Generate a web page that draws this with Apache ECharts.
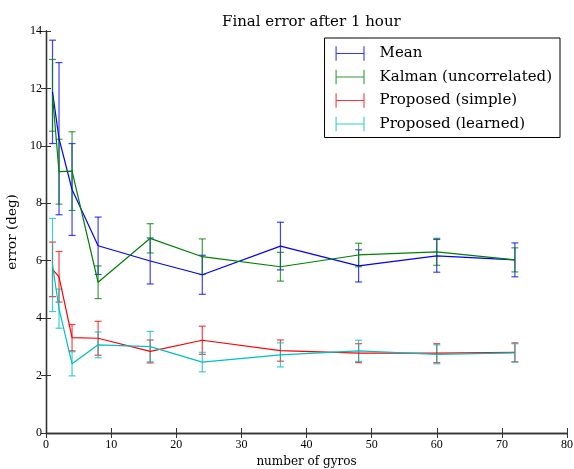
<!DOCTYPE html>
<html><head><meta charset="utf-8">
<script src="https://cdn.jsdelivr.net/npm/echarts@6/dist/echarts.min.js"></script>
<style>html,body{margin:0;padding:0;background:#fff}#c{width:574px;height:469px}</style>
</head><body><div id="c"></div>
<script>
var xs = [1, 2, 4, 8, 16, 24, 36, 48, 60, 72];
var meanVals = [11.88, 10.25, 8.48, 6.52, 5.99, 5.51, 6.51, 5.82, 6.17, 6.03];
var meanErr = [1.8, 2.65, 1.6, 1.0, 0.8, 0.68, 0.83, 0.56, 0.57, 0.59];
var kalmanVals = [11.76, 9.10, 9.12, 5.25, 6.78, 6.14, 5.79, 6.20, 6.31, 6.03];
var kalmanErr = [1.25, 1.13, 1.37, 0.57, 0.51, 0.62, 0.5, 0.41, 0.47, 0.42];
var simpleVals = [5.70, 5.44, 3.32, 3.30, 2.84, 3.23, 2.87, 2.78, 2.78, 2.81];
var simpleErr = [0.95, 0.88, 0.46, 0.59, 0.40, 0.49, 0.37, 0.33, 0.33, 0.33];
var learnedVals = [5.85, 4.33, 2.41, 3.07, 3.01, 2.47, 2.72, 2.86, 2.74, 2.79];
var learnedErr = [1.62, 0.68, 0.42, 0.45, 0.53, 0.34, 0.42, 0.37, 0.33, 0.32];
var seriesNames = ['Mean', 'Kalman (uncorrelated)', 'Proposed (simple)', 'Proposed (learned)'];
var colors = ['#0000ff', '#008000', '#ff0000', '#00bfbf'];
var xTicks = [0, 10, 20, 30, 40, 50, 60, 70, 80];
var yTicks = [0, 2, 4, 6, 8, 10, 12, 14];

var FONT = 'DejaVu Serif';
var TICKFONT = 'Liberation Serif';
var vals = [meanVals, kalmanVals, simpleVals, learnedVals];
var errs = [meanErr, kalmanErr, simpleErr, learnedErr];

function errSeries(i) {
  var data = xs.map(function (x, k) { return [x, vals[i][k] - errs[i][k], vals[i][k] + errs[i][k]]; });
  return {
    type: 'custom', name: seriesNames[i], data: data, z: 2, silent: true,
    encode: { x: 0, y: [1, 2] },
    renderItem: function (params, api) {
      var lo = api.coord([api.value(0), api.value(1)]);
      var hi = api.coord([api.value(0), api.value(2)]);
      var w = 3.5;
      var st = { stroke: colors[i], lineWidth: 1.2, opacity: 0.75 };
      return { type: 'group', children: [
        { type: 'line', shape: { x1: lo[0], y1: lo[1], x2: hi[0], y2: hi[1] }, style: st },
        { type: 'line', shape: { x1: lo[0] - w, y1: lo[1], x2: lo[0] + w, y2: lo[1] }, style: st },
        { type: 'line', shape: { x1: hi[0] - w, y1: hi[1], x2: hi[0] + w, y2: hi[1] }, style: st }
      ]};
    }
  };
}
function lineSeries(i) {
  return {
    type: 'line', name: seriesNames[i], data: xs.map(function (x, k) { return [x, vals[i][k]]; }),
    symbol: 'none', z: 3, lineStyle: { color: colors[i], width: 1.2 }, itemStyle: { color: colors[i] }
  };
}
var series = [];
for (var i = 0; i < 4; i++) { series.push(lineSeries(i)); series.push(errSeries(i)); }

var axisLine = { show: true, lineStyle: { color: '#333', width: 1.3 } };
var tick = { show: true, inside: true, length: 5, lineStyle: { color: '#333', width: 1 } };
var xLabel = { fontFamily: TICKFONT, fontSize: 12, color: '#000', margin: 6,
  formatter: function (v) { return xTicks.indexOf(v) >= 0 ? String(v) : ''; } };
var yLabel = { fontFamily: TICKFONT, fontSize: 12, color: '#000', margin: 4,
  formatter: function (v) { return yTicks.indexOf(v) >= 0 ? String(v) : ''; } };

var chart = echarts.init(document.getElementById('c'));
chart.setOption({
  animation: false,
  title: { text: 'Final error after 1 hour', left: 217, top: 10,
    textStyle: { fontFamily: FONT, fontSize: 15, fontWeight: 'normal', color: '#000' } },
  grid: { left: 46, right: 7, top: 31, bottom: 36, outerBoundsMode: 'none', containLabel: false },
  legend: {
    data: seriesNames.map(function (n, i) { return { name: n, itemStyle: { color: colors[i], opacity: 0.8 } }; }),
    orient: 'vertical', right: 14, top: 38, itemWidth: 29, itemHeight: 17, itemGap: 8.5,
    padding: [8, 8, 6, 11], borderColor: '#000', borderWidth: 1, backgroundColor: '#fff',
    icon: 'path://M0,0h1.5v20h-1.5z M0,9.3h40v1.4h-40z M38.5,0h1.5v20h-1.5z',
    textStyle: { fontFamily: FONT, fontSize: 15, color: '#000', padding: [0, 0, 0, 10] }, selectedMode: false
  },
  xAxis: [
    { type: 'value', min: 0, max: 80, interval: 10, axisLine: axisLine, axisTick: tick, splitLine: { show: false },
      axisLabel: xLabel, name: 'number of gyros', nameLocation: 'middle', nameGap: 23,
      nameTextStyle: { fontFamily: FONT, fontSize: 12, color: '#000' } },
    { type: 'value', position: 'top', min: 0, max: 80, interval: 10, axisLine: axisLine, axisTick: tick,
      splitLine: { show: false }, axisLabel: { show: false } }
  ],
  yAxis: [
    { type: 'value', min: 0, max: 14, interval: 2, axisLine: axisLine, axisTick: tick, splitLine: { show: false },
      axisLabel: yLabel, name: 'error (deg)', nameLocation: 'middle', nameGap: 22,
      nameTextStyle: { fontFamily: FONT, fontSize: 13.5, color: '#000' } },
    { type: 'value', position: 'right', min: 0, max: 14, interval: 2, axisLine: axisLine, axisTick: tick,
      splitLine: { show: false }, axisLabel: { show: false } }
  ],
  series: series
});
</script></body></html>
